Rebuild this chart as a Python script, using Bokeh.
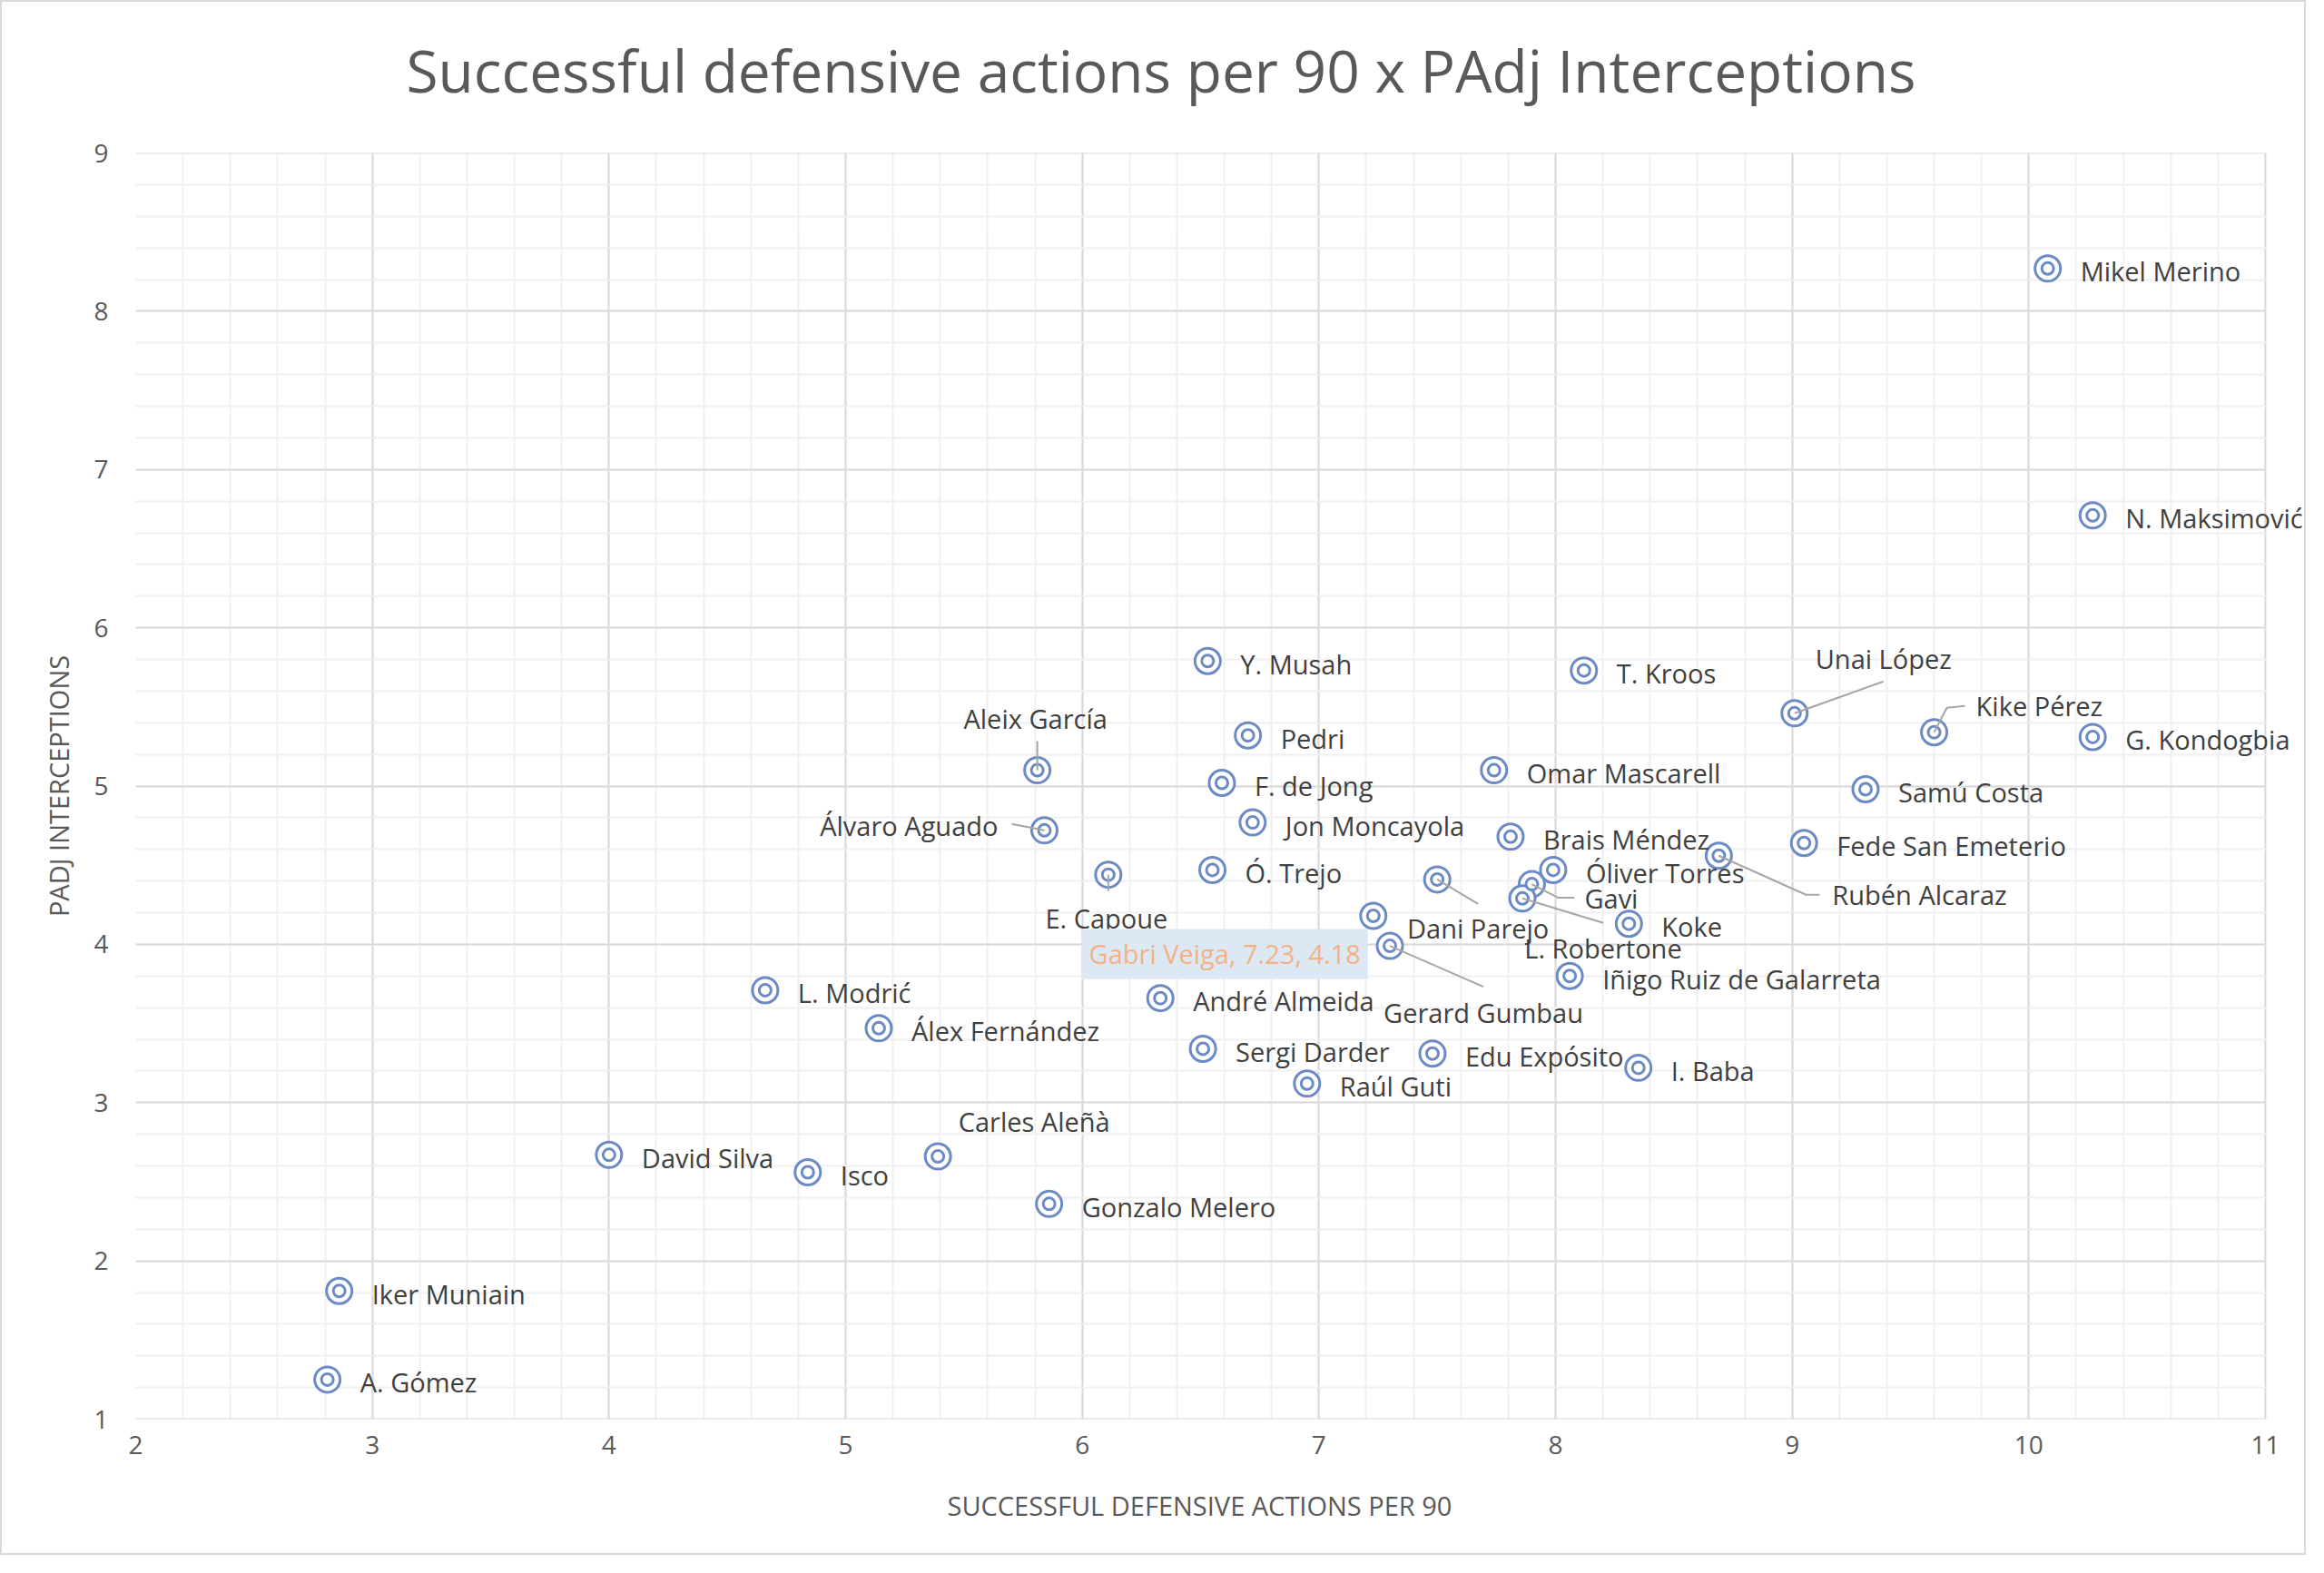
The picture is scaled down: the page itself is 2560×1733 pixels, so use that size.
from bokeh.plotting import figure
from bokeh.models import Range1d, SingleIntervalTicker, Label, ColumnDataSource, Title
from bokeh.embed import file_html
from bokeh.resources import INLINE

# ---------------- data ----------------
players = [
    "Mikel Merino", "N. Maksimović", "G. Kondogbia", "Kike Pérez", "Unai López",
    "Samú Costa", "Fede San Emeterio", "Rubén Alcaraz", "T. Kroos", "Omar Mascarell",
    "Brais Méndez", "Óliver Torres", "Gavi", "L. Robertone", "Koke",
    "Dani Parejo", "Gabri Veiga", "Gerard Gumbau", "Iñigo Ruiz de Galarreta", "I. Baba",
    "Edu Expósito", "Raúl Guti", "Sergi Darder", "André Almeida", "Y. Musah",
    "Pedri", "F. de Jong", "Jon Moncayola", "Ó. Trejo", "E. Capoue",
    "Aleix García", "Álvaro Aguado", "L. Modrić", "Álex Fernández", "Carles Aleñà",
    "David Silva", "Isco", "Gonzalo Melero", "Iker Muniain", "A. Gómez",
]
def_actions_p90 = [
    10.08, 10.27, 10.27, 9.60, 9.01,
    9.31, 9.05, 8.69, 8.12, 7.74,
    7.81, 7.99, 7.90, 7.86, 8.31,
    7.50, 7.23, 7.30, 8.06, 8.35,
    7.48, 6.95, 6.51, 6.33, 6.53,
    6.70, 6.59, 6.72, 6.55, 6.11,
    5.81, 5.84, 4.66, 5.14, 5.39,
    4.00, 4.84, 5.86, 2.86, 2.81,
]
padj_interceptions = [
    8.27, 6.71, 5.31, 5.34, 5.46,
    4.98, 4.64, 4.56, 5.73, 5.10,
    4.68, 4.47, 4.38, 4.29, 4.13,
    4.41, 4.18, 3.99, 3.80, 3.22,
    3.31, 3.12, 3.34, 3.66, 5.79,
    5.32, 5.02, 4.77, 4.47, 4.44,
    5.10, 4.72, 3.71, 3.47, 2.66,
    2.67, 2.56, 2.36, 1.81, 1.25,
]
x_ticks = [2, 3, 4, 5, 6, 7, 8, 9, 10, 11]
y_ticks = [1, 2, 3, 4, 5, 6, 7, 8, 9]
highlighted = "Gabri Veiga"
x_title = "SUCCESSFUL DEFENSIVE ACTIONS PER 90"
y_title = "PADJ INTERCEPTIONS"
chart_title = "Successful defensive actions per 90 x PAdj Interceptions"

# ---------------- label placement (screen px, y down) ----------------
DEFAULT_POS = (36, 3, "left")
label_pos = {
    "Unai López": (98, -60, "center"),
    "Kike Pérez": (46, -29, "left"),
    "Rubén Alcaraz": (125, 43, "left"),
    "Gavi": (58, 15, "left"),
    "L. Robertone": (89, 55, "center"),
    "Dani Parejo": (45, 54, "center"),
    "Gerard Gumbau": (103, 73, "center"),
    "E. Capoue": (-2, 48, "center"),
    "Aleix García": (-2, -57, "center"),
    "Álvaro Aguado": (-51, -5, "right"),
    "Carles Aleñà": (106, -39, "center"),
}
leaders = {
    "Unai López": [(0, 0), (98, -35)],
    "Kike Pérez": [(0, 0), (14, -27), (34, -29)],
    "Rubén Alcaraz": [(0, 0), (96, 43), (111, 43)],
    "Gavi": [(0, 0), (29, 15), (47, 15)],
    "L. Robertone": [(0, 0), (89, 27)],
    "Dani Parejo": [(0, 0), (45, 27)],
    "Gerard Gumbau": [(0, 0), (103, 45)],
    "E. Capoue": [(0, 0), (0, 18)],
    "Aleix García": [(0, 0), (0, -32)],
    "Álvaro Aguado": [(0, 0), (-36, -7)],
}

FONT = "Open Sans"
TXT = "#595959"
MARK = "#6C8AC4"

X0, X1, Y0, Y1 = x_ticks[0], x_ticks[-1], y_ticks[0], y_ticks[-1]
W, H = 2540, 1713
FL, FT = 147, 166
PX_PER_X = 2346 / (X1 - X0)      # plot area of the reference: 2346 x 1395 px
PX_PER_Y = 1395 / (Y1 - Y0)
FW, FH = W - FL, 1395            # frame runs to the right edge so labels are not cut
FR, FB = W - FL - FW, H - FT - FH
X_END = X0 + FW / PX_PER_X

p = figure(width=W, height=H, output_backend="svg", toolbar_location=None,
           x_range=Range1d(X0, X_END), y_range=Range1d(Y0, Y1),
           min_border_left=FL, min_border_right=FR,
           min_border_top=FT, min_border_bottom=FB,
           background_fill_color="white", border_fill_color="white")
p.styles = {"border": "2px solid #D9D9D9"}

p.title = None
p.add_layout(Title(text=" ", text_font_size="2px", standoff=44), "above")
p.add_layout(Title(text=chart_title,
                   text_font=FONT, text_font_size="64px", text_font_style="normal",
                   text_color=TXT, align="left", offset=298, standoff=0), "above")

p.outline_line_color = None

p.xaxis.ticker = SingleIntervalTicker(interval=1, num_minor_ticks=5)
p.yaxis.ticker = SingleIntervalTicker(interval=1, num_minor_ticks=5)
for ax in (p.xaxis, p.yaxis):
    ax.axis_line_color = None
    ax.major_tick_line_color = None
    ax.minor_tick_line_color = None
    ax.major_tick_out = 0
    ax.major_tick_in = 0
    ax.minor_tick_out = 0
    ax.major_label_text_font = FONT
    ax.major_label_text_font_size = "28px"
    ax.major_label_text_color = TXT
    ax.axis_label_text_font = FONT
    ax.axis_label_text_font_size = "29px"
    ax.axis_label_text_font_style = "normal"
    ax.axis_label_text_color = TXT

p.yaxis.axis_label = y_title
p.xaxis.major_label_standoff = 18
p.yaxis.major_label_standoff = 30
p.yaxis.axis_label_standoff = 16

# x-axis title, centred under the x = 2..11 plot area (not the label strip)
p.add_layout(Title(text=x_title, text_font=FONT, text_font_size="29px",
                   text_font_style="normal", text_color=TXT,
                   align="left", offset=894, standoff=64), "below")

for g in (p.xgrid, p.ygrid):
    g.grid_line_color = "#D9D9D9"
    g.grid_line_width = 2
    g.minor_grid_line_color = "#F0F0F0"
    g.minor_grid_line_width = 2

ux = 1 / PX_PER_X
uy = 1 / PX_PER_Y

# blank out the strip right of x = 11 (reserved for labels only)
p.quad(left=[X1 + 1.2 * ux], right=[X_END], bottom=[Y0], top=[Y1],
       fill_color="white", line_color=None)
# frame edges
p.segment(x0=[X0, X0], y0=[Y0, Y1], x1=[X1, X1], y1=[Y0, Y1],
          line_color="#D9D9D9", line_width=2)

# markers (double ring)
src = ColumnDataSource(dict(x=def_actions_p90, y=padj_interceptions, name=players))
p.scatter("x", "y", source=src, marker="circle", size=28, fill_color="white",
          line_color=MARK, line_width=3)
p.scatter("x", "y", source=src, marker="circle", size=13, fill_color="white",
          line_color=MARK, line_width=3)

# leader lines
lx, ly = [], []
for name, pts in leaders.items():
    i = players.index(name)
    lx.append([def_actions_p90[i] + dx * ux for dx, dy in pts])
    ly.append([padj_interceptions[i] - dy * uy for dx, dy in pts])
p.multi_line(lx, ly, line_color="#A6A6A6", line_width=2)

# data labels
for name, xv, yv in zip(players, def_actions_p90, padj_interceptions):
    if name == highlighted:
        continue
    dx, dy, al = label_pos.get(name, DEFAULT_POS)
    p.add_layout(Label(x=xv, y=yv, x_offset=dx, y_offset=-dy, text=name,
                       text_font=FONT, text_font_size="29px", text_color="#404040",
                       text_align=al, text_baseline="middle"))

hi = players.index(highlighted)
p.add_layout(Label(x=def_actions_p90[hi], y=padj_interceptions[hi], x_offset=-6, y_offset=-42,
                   text=f"{highlighted}, {def_actions_p90[hi]:.2f}, {padj_interceptions[hi]:.2f}",
                   text_font=FONT, text_font_size="29px", text_color="#F4B183",
                   text_align="right", text_baseline="middle",
                   background_fill_color="#DDE8F5", padding=8))

open("out.html", "w").write(file_html(p, INLINE))
